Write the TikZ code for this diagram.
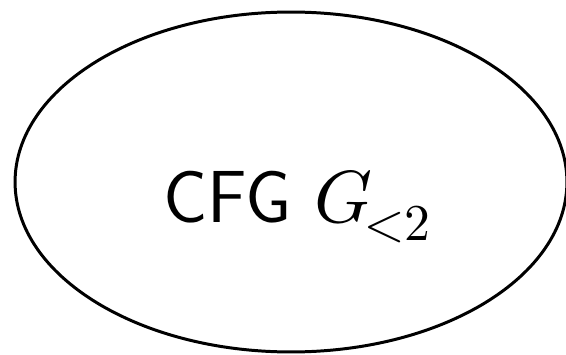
\documentclass[tikz,border=0pt]{standalone}
\usepackage{unicode-math}
\usetikzlibrary{shapes.geometric}
\tikzset{
	grammar/.style={draw, ellipse, line width=1.7pt, inner sep=0pt,
		minimum width=11.04cm, minimum height=6.8cm},
	every node/.style={font=\sffamily\fontsize{42}{50}\selectfont}
}

\begin{document}
\begin{tikzpicture}[x=0.02cm, y=-0.02cm]
	\useasboundingbox (0,0) rectangle (566,355);

% ELLIPSE
	\node[grammar] (cfg) at (291,182) {};

% NOTATION
	\node[anchor=base west, inner sep=0pt] (name) at (163,222) {CFG $G_{\mkern-3mu<2}$};

\end{tikzpicture}
\end{document}
